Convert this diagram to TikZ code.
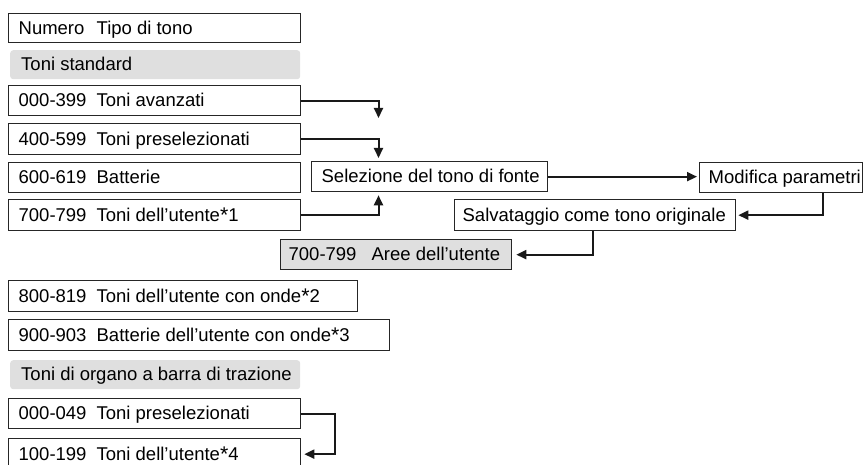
\documentclass[tikz,border=0pt]{standalone}
\usepackage{fontspec}
\setmainfont{Liberation Sans}
\usetikzlibrary{arrows.meta,calc}
\newcommand{\numcol}[3][78pt]{\makebox[#1][l]{#2}#3}
\newcommand{\myast}{\raisebox{-1pt}{\scalebox{1.15}{*}}}
\newcommand{\bx}[2]{\makebox[#1][l]{#2}}
\tikzset{
  txt/.style={font=\fontsize{18.5}{22}\selectfont, anchor=north west,
    inner ysep=0pt, text height=13.3pt, text depth=1.5pt},
  box/.style={txt, draw=black!85, line width=1.3pt, fill=white, inner xsep=10pt},
  graybox/.style={box, fill=gray!25},
  cat/.style={txt, fill=gray!25, rounded corners=3pt, inner xsep=11pt},
  conn/.style={line width=2pt, draw=black!90, -{Triangle[length=10pt,width=9pt]}}
}
\begin{document}
\begin{tikzpicture}[x=1pt,y=-1pt]
\useasboundingbox (0,0) rectangle (864,465);
% left column
\node[box, minimum height=29pt] (hdr) at (8,13) {\bx{272pt}{\numcol{Numero}{Tipo di tono}}};
\node[cat, minimum height=29pt] (std) at (10,50) {\bx{268pt}{Toni standard}};
\node[box, minimum height=30pt] (r1) at (8,85) {\bx{272pt}{\numcol{000-399}{Toni avanzati}}};
\node[box, minimum height=31pt] (r2) at (8,123) {\bx{272pt}{\numcol{400-599}{Toni preselezionati}}};
\node[box, minimum height=30pt] (r3) at (8,162) {\bx{272pt}{\numcol{600-619}{Batterie}}};
\node[box, minimum height=31pt] (r4) at (8,199) {\bx{272pt}{\numcol{700-799}{Toni dell’utente\myast1}}};
\node[box, minimum height=31pt] (r5) at (8,280) {\bx{329pt}{\numcol{800-819}{Toni dell’utente con onde\myast2}}};
\node[box, minimum height=31pt] (r6) at (8,319) {\bx{361pt}{\numcol{900-903}{Batterie dell’utente con onde\myast3}}};
\node[cat, minimum height=29pt] (org) at (10,360) {\bx{268pt}{Toni di organo a barra di trazione}};
\node[box, minimum height=30pt] (r7) at (8,398) {\bx{272pt}{\numcol{000-049}{Toni preselezionati}}};
\node[box, minimum height=31pt] (r8) at (8,438) {\bx{272pt}{\numcol{100-199}{Toni dell’utente\myast4}}};
% right part
\node[box, minimum height=30pt] (sel) at (311,161) {\bx{216pt}{Selezione del tono di fonte}};
\node[box, inner xsep=9pt, minimum height=30pt] (mod) at (699,162) {\bx{145pt}{Modifica parametri}};
\node[box, inner xsep=8pt, minimum height=31pt] (sav) at (454,199) {\bx{265pt}{Salvataggio come tono originale}};
\node[graybox, inner xsep=8pt, minimum height=30pt] (aree) at (280,239) {\bx{215pt}{\numcol[83pt]{700-799}{Aree dell’utente}}};
% connectors
\coordinate (a1) at (378.5,118);
\draw[conn] (r1.east) -| (a1);
\draw[conn, shorten >=3pt] (r2.east) -| ([xshift=67.5pt]sel.north west);
\draw[conn, shorten >=3pt] (r4.east) -| ([xshift=67.5pt]sel.south west);
\draw[conn, shorten >=2pt] (sel.east) -- (sel.east -| mod.west);
\draw[conn, shorten >=2pt] ([xshift=-40pt]mod.south east) |- (sav.east);
\draw[conn, shorten >=4pt] ([xshift=139pt]sav.south west) |- (aree.east);
\draw[conn, shorten >=3pt] (r7.east) -- ++(34,0) |- (r8.east);
\end{tikzpicture}
\end{document}
